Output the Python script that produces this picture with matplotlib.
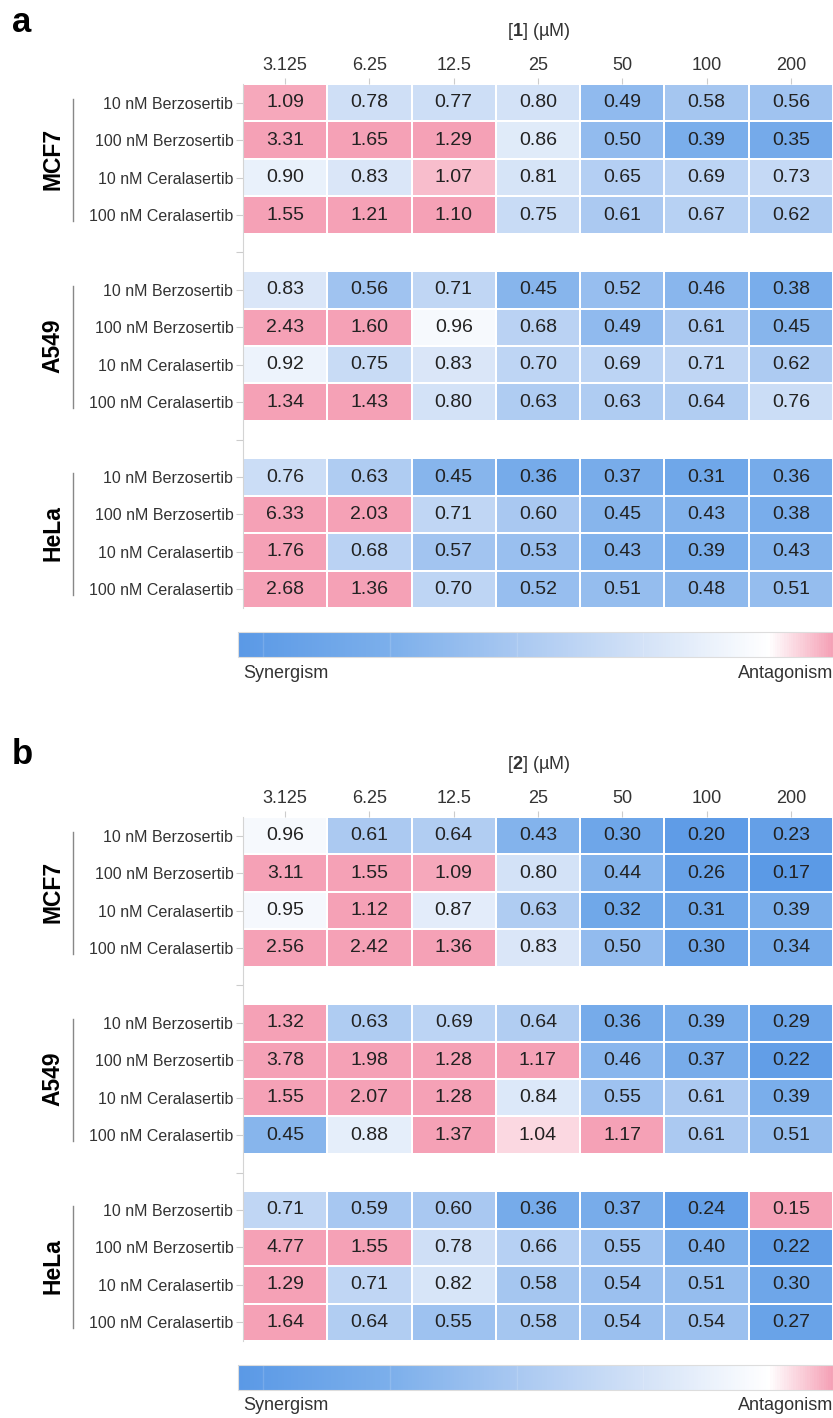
import numpy as np
import matplotlib
matplotlib.use("Agg")
import matplotlib.pyplot as plt
from matplotlib.colors import LinearSegmentedColormap, Normalize
from matplotlib import transforms

plt.rcParams["font.family"] = ["Liberation Sans", "DejaVu Sans"]
plt.rcParams["mathtext.fontset"] = "custom"
plt.rcParams["mathtext.rm"] = "Liberation Sans"
plt.rcParams["mathtext.bf"] = "Liberation Sans:bold"

concentrations = ["3.125", "6.25", "12.5", "25", "50", "100", "200"]
cell_lines = ["MCF7", "A549", "HeLa"]
treatments = ["10 nM Berzosertib", "100 nM Berzosertib",
              "10 nM Ceralasertib", "100 nM Ceralasertib"]

# combination index, compound 1
ci_compound1_mcf7 = [
    [1.09, 0.78, 0.77, 0.80, 0.49, 0.58, 0.56],
    [3.31, 1.65, 1.29, 0.86, 0.50, 0.39, 0.35],
    [0.90, 0.83, 1.07, 0.81, 0.65, 0.69, 0.73],
    [1.55, 1.21, 1.10, 0.75, 0.61, 0.67, 0.62],
]
ci_compound1_a549 = [
    [0.83, 0.56, 0.71, 0.45, 0.52, 0.46, 0.38],
    [2.43, 1.60, 0.96, 0.68, 0.49, 0.61, 0.45],
    [0.92, 0.75, 0.83, 0.70, 0.69, 0.71, 0.62],
    [1.34, 1.43, 0.80, 0.63, 0.63, 0.64, 0.76],
]
ci_compound1_hela = [
    [0.76, 0.63, 0.45, 0.36, 0.37, 0.31, 0.36],
    [6.33, 2.03, 0.71, 0.60, 0.45, 0.43, 0.38],
    [1.76, 0.68, 0.57, 0.53, 0.43, 0.39, 0.43],
    [2.68, 1.36, 0.70, 0.52, 0.51, 0.48, 0.51],
]

# combination index, compound 2
ci_compound2_mcf7 = [
    [0.96, 0.61, 0.64, 0.43, 0.30, 0.20, 0.23],
    [3.11, 1.55, 1.09, 0.80, 0.44, 0.26, 0.17],
    [0.95, 1.12, 0.87, 0.63, 0.32, 0.31, 0.39],
    [2.56, 2.42, 1.36, 0.83, 0.50, 0.30, 0.34],
]
ci_compound2_a549 = [
    [1.32, 0.63, 0.69, 0.64, 0.36, 0.39, 0.29],
    [3.78, 1.98, 1.28, 1.17, 0.46, 0.37, 0.22],
    [1.55, 2.07, 1.28, 0.84, 0.55, 0.61, 0.39],
    [0.45, 0.88, 1.37, 1.04, 1.17, 0.61, 0.51],
]
ci_compound2_hela = [
    [0.71, 0.59, 0.60, 0.36, 0.37, 0.24, 0.15],
    [4.77, 1.55, 0.78, 0.66, 0.55, 0.40, 0.22],
    [1.29, 0.71, 0.82, 0.58, 0.54, 0.51, 0.30],
    [1.64, 0.64, 0.55, 0.58, 0.54, 0.54, 0.27],
]

CI_MIN, CI_MAX = 0.16, 1.10
PINK = "#f5a1b6"
stops = [(0.16, "#5a99e6"), (0.40, "#7cafeb"), (0.60, "#a9c8f1"),
         (0.80, "#d3e2f7"), (1.00, "#ffffff"), (1.10, PINK)]
cmap = LinearSegmentedColormap.from_list(
    "ci", [((v - CI_MIN) / (CI_MAX - CI_MIN), c) for v, c in stops])
# anything outside the scale is flagged as antagonism
cmap.set_over(PINK)
cmap.set_under(PINK)
norm = Normalize(CI_MIN, CI_MAX)

W, H = 833, 1418
fig = plt.figure(figsize=(W / 100, H / 100), dpi=100)


def box(left, top, right, bottom):
    return [left / W, 1 - bottom / H, (right - left) / W, (bottom - top) / H]


def stack_groups(groups):
    rows = []
    for i, g in enumerate(groups):
        if i > 0:
            rows.append([np.nan] * len(concentrations))
        rows.extend(g)
    return np.ma.masked_invalid(np.array(rows, dtype=float))


def draw_panel(letter, compound, groups, top):
    data = stack_groups(groups)
    n_rows, n_cols = data.shape
    ax = fig.add_axes(box(243, top, 833, top + 524))
    ax.pcolormesh(np.arange(n_cols + 1), np.arange(n_rows + 1), data,
                  cmap=cmap, norm=norm, edgecolors="white", linewidth=1.2)
    ax.set_xlim(0, n_cols)
    ax.set_ylim(n_rows, 0)

    for r in range(n_rows):
        for c in range(n_cols):
            if not data.mask[r, c]:
                ax.text(c + 0.5, r + 0.5, f"{data[r, c]:.2f}", ha="center",
                        va="center", fontsize=14, color="#222222")

    ax.xaxis.tick_top()
    ax.set_xticks(np.arange(n_cols) + 0.5)
    ax.set_xticklabels(concentrations, fontsize=13, color="#333333")
    ax.set_yticks(np.arange(n_rows) + 0.5)
    labels = []
    for i in range(len(groups)):
        if i > 0:
            labels.append("")
        labels.extend(treatments)
    ax.set_yticklabels(labels, fontsize=11.5, color="#333333")
    ax.tick_params(axis="x", length=4, color="#cccccc", pad=3)
    ax.tick_params(axis="y", length=5, color="#cccccc", pad=2)
    for side in ["top", "right", "bottom"]:
        ax.spines[side].set_visible(False)
    ax.spines["left"].set_color("#d4d4d4")

    # cell line brackets on the left
    trans = transforms.blended_transform_factory(ax.transAxes, ax.transData)
    for i, name in enumerate(cell_lines):
        first = i * (len(treatments) + 1)
        last = first + len(treatments) - 1
        x_line = (73 - 243) / 590
        ax.plot([x_line, x_line], [first + 0.4, last + 0.65], color="#888888",
                lw=1, transform=trans, clip_on=False)
        ax.text((53 - 243) / 590, (first + last + 1) / 2, name, rotation=90,
                ha="center", va="center", fontsize=16.5, fontweight="bold",
                transform=trans)

    fig.text(22 / W, 1 - (top - 62) / H, letter, fontsize=25,
             fontweight="bold", ha="center", va="center")
    fig.text(539 / W, 1 - (top - 53) / H, rf"[$\mathbf{{{compound}}}$] (µM)",
             fontsize=13, ha="center", va="center", color="#333333")

    # colour scale strip
    cax = fig.add_axes(box(238, top + 548, 833, top + 573))
    sm = plt.cm.ScalarMappable(norm=norm, cmap=cmap)
    cb = fig.colorbar(sm, cax=cax, orientation="horizontal")
    cb.set_ticks([])
    cb.outline.set_edgecolor("#dddddd")
    for v in [0.2, 0.4, 0.6, 0.8, 1.0]:
        cax.axvline(v, color="white", lw=1, alpha=0.15)
    fig.text(243 / W, 1 - (top + 589) / H, "Synergism", fontsize=13,
             ha="left", va="center", color="#333333")
    fig.text(833 / W, 1 - (top + 589) / H, "Antagonism", fontsize=13,
             ha="right", va="center", color="#333333")


draw_panel("a", 1, [ci_compound1_mcf7, ci_compound1_a549, ci_compound1_hela], 84)
draw_panel("b", 2, [ci_compound2_mcf7, ci_compound2_a549, ci_compound2_hela], 817)

fig.savefig("out.png", dpi=100, facecolor="white")
